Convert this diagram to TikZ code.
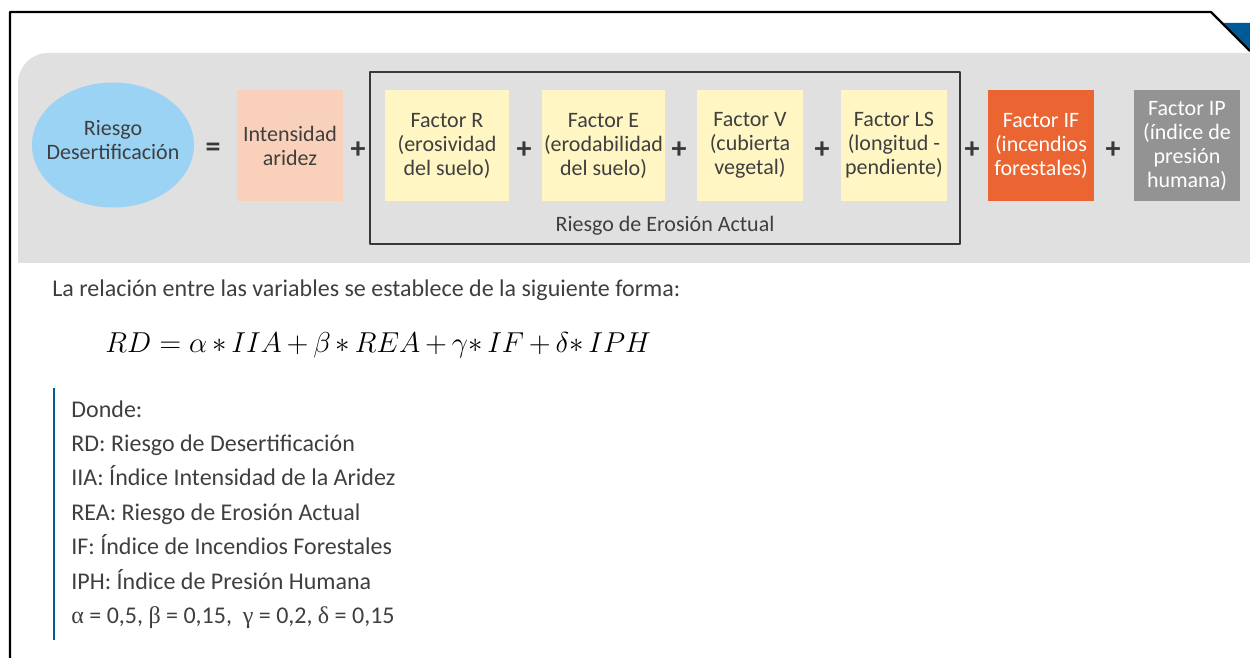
\documentclass[tikz,border=0pt]{standalone}
\usepackage{fontspec}
\setmainfont{Carlito}
\newfontfamily\greekfont{Liberation Serif}
\usetikzlibrary{shapes.geometric}
\definecolor{panelgray}{HTML}{E0E0E0}
\definecolor{textgray}{HTML}{3F3F3F}
\definecolor{signgray}{HTML}{383838}
\definecolor{skyblue}{HTML}{9AD3F4}
\definecolor{peach}{HTML}{F9D1BB}
\definecolor{paleyellow}{HTML}{FFF6C4}
\definecolor{fireorange}{HTML}{EA6531}
\definecolor{humangray}{HTML}{939393}
\definecolor{darkblue}{HTML}{005A96}
\tikzset{
  factorbox/.style={rectangle, minimum width=53pt, minimum height=55.5pt,
    align=center, inner sep=1pt, font=\fontsize{11}{12}\selectfont},
  plus/.style={font=\fontsize{15}{15}\selectfont\bfseries, text=signgray},
  bodytext/.style={anchor=base west, inner sep=0pt, font=\fontsize{12}{14}\selectfont}
}
\begin{document}
\begin{tikzpicture}[x=0.5pt, y=-0.5pt, text=textgray, line join=round]
    % Page size
    \useasboundingbox (0,0) rectangle (1250,658);

    % Grey panel with the rounded top left corner
    \fill[panelgray] (18,263) [rounded corners=15pt] -- (18,53)
        [sharp corners] -- (1250,53) -- (1250,263) -- cycle;

    % Blue tab in the top right corner, then the frame line
    \fill[darkblue] (1222,23) -- (1250,23) -- (1250,51) -- cycle;
    \draw[line width=1.2pt] (10,658) -- (10,12) -- (1211,12) -- (1250,51);

    % Left hand side of the equation
    \node[ellipse, fill=skyblue, minimum width=81pt, minimum height=62.5pt,
          inner sep=0pt] (rd) at (113,145) {};
    \node[align=center, font=\fontsize{11}{12}\selectfont] (rdtext) at (113,140)
          {Riesgo\\Desertificaci\'on};
    \node[plus] (eq) at (213,150) {=};

    % Aridity and the erosion factors
    \node[factorbox, fill=peach] (iia) at (290,145.5) {Intensidad\\aridez};
    \node[plus] (p1) at (358,150) {+};
    \node[factorbox, fill=paleyellow, minimum width=62pt] (fr) at (447,145.5)
        {Factor R\\(erosividad\\del suelo)};
    \node[plus] (p2) at (524,150) {+};
    \node[factorbox, fill=paleyellow, minimum width=61.5pt] (fe) at (603.5,145.5)
        {Factor E\\(erodabilidad\\del suelo)};
    \node[plus] (p3) at (679,150) {+};
    \node[factorbox, fill=paleyellow] (fv) at (750,145.5)
        {Factor V\\(cubierta\\vegetal)};
    \node[plus] (p4) at (822,150) {+};
    \node[factorbox, fill=paleyellow] (fls) at (894,145.5)
        {Factor LS\\(longitud -\\pendiente)};

    % Frame round the four erosion factors
    \draw[line width=1pt, signgray] (370,72) rectangle (960,244);
    \node[font=\fontsize{11}{12}\selectfont] (rea) at (665,226)
        {Riesgo de Erosi\'on Actual};

    % Fires and human pressure
    \node[plus] (p5) at (972,150) {+};
    \node[factorbox, fill=fireorange, text=white] (fif) at (1041,145.5)
        {Factor IF\\(incendios\\forestales)};
    \node[plus] (p6) at (1113,150) {+};
    \node[factorbox, fill=humangray, text=white] (fip) at (1187,145.5)
        {\raisebox{1.5pt}{Factor IP}\\\raisebox{1.5pt}{(\'indice de}\\
         \raisebox{1.5pt}{presi\'on}\\\raisebox{1.5pt}{humana)}};

    % Text below the panel
    \node[bodytext] (intro) at (52,297)
        {La relaci\'on entre las variables se establece de la siguiente forma:};
    \node[anchor=west, inner sep=0pt, font=\fontsize{14}{16}\selectfont,
          text=black] (formula) at (105,345)
        {\medmuskip=3mu $RD = \alpha * IIA + \beta * REA + \gamma{*}\, IF + \delta{*}\, IPH$};

    % Legend with the blue bar
    \draw[darkblue, line width=1.3pt] (54,388) -- (54,640);
    \foreach \txt [count=\i from 0] in {Donde:,
        RD: Riesgo de Desertificaci\'on,
        IIA: \'Indice Intensidad de la Aridez,
        REA: Riesgo de Erosi\'on Actual,
        IF: \'Indice de Incendios Forestales,
        IPH: \'Indice de Presi\'on Humana,
        {{\greekfont α} = 0,5, {\greekfont β} = 0,15, \ {\greekfont γ} = 0,2, {\greekfont δ} = 0,15}}
        \node[bodytext] (d\i) at (71,417+34.4*\i) {\txt};
\end{tikzpicture}
\end{document}
